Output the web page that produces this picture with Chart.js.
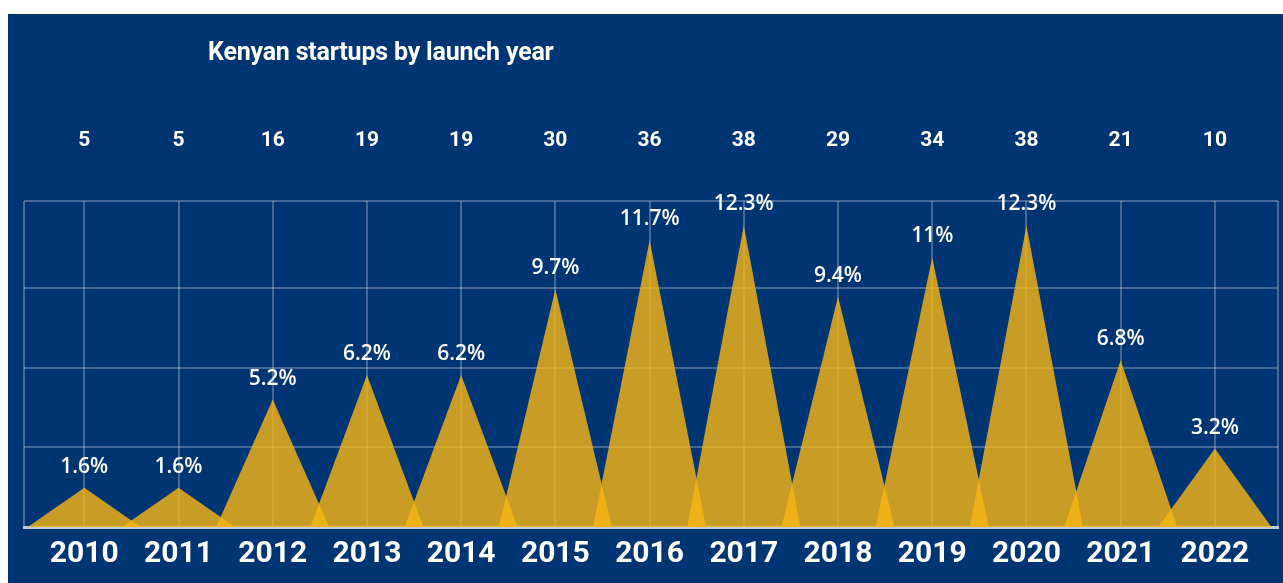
<!DOCTYPE html>
<html>
<head>
<meta charset="utf-8">
<title>Kenyan startups by launch year</title>
<script src="https://cdn.jsdelivr.net/npm/chart.js@4/dist/chart.umd.min.js"></script>
<style>
  html, body { margin: 0; padding: 0; background: #ffffff; }
  #panel {
    position: absolute; left: 8px; top: 14px;
    width: 1275px; height: 569px;
    background: #003574;
  }
  #title {
    position: absolute; left: 200px; top: 23px;
    font: bold 25px Roboto, "Liberation Sans", sans-serif;
    letter-spacing: -0.2px;
    color: #ffffff; white-space: nowrap;
  }
  canvas { position: absolute; left: 0; top: 0; }
</style>
</head>
<body>
<div id="panel">
  <canvas id="startups-chart" width="1275" height="569"></canvas>
  <div id="title">Kenyan startups by launch year</div>
</div>
<script>
const years = ['2010', '2011', '2012', '2013', '2014', '2015', '2016', '2017', '2018', '2019', '2020', '2021', '2022'];
const counts = [5, 5, 16, 19, 19, 30, 36, 38, 29, 34, 38, 21, 10];
const shares = [1.6, 1.6, 5.2, 6.2, 6.2, 9.7, 11.7, 12.3, 9.4, 11, 12.3, 6.8, 3.2];
const gridValues = [0, 3.25, 6.5, 9.75, 13.3];

// half of each triangle's base, in category units
const halfWidth = 0.6;
const xMin = -0.64;
const xMax = 12.67;

const labelPlugin = {
    id: 'startupLabels',
    afterDatasetsDraw(chart) {
        const ctx = chart.ctx;
        const xScale = chart.scales.x;
        const yScale = chart.scales.y;
        ctx.save();
        ctx.fillStyle = '#ffffff';
        ctx.textAlign = 'center';
        ctx.textBaseline = 'middle';
        years.forEach((year, i) => {
            const px = xScale.getPixelForValue(i);
            ctx.font = 'bold 21px Roboto';
            ctx.fillText(String(counts[i]), px, 127);
            ctx.font = '600 21px "Open Sans"';
            ctx.fillText(shares[i] + '%', px, yScale.getPixelForValue(shares[i]) - 21);
            ctx.font = 'bold 30px Roboto';
            ctx.fillText(year, px, chart.chartArea.bottom + 27);
        });
        ctx.restore();
    }
};

const datasets = years.map((year, i) => ({
    label: year,
    data: [
        { x: i - halfWidth, y: 0 },
        { x: i, y: shares[i] },
        { x: i + halfWidth, y: 0 }
    ],
    fill: 'origin',
    backgroundColor: 'rgba(245, 180, 20, 0.82)',
    borderColor: 'transparent',
    borderWidth: 0,
    pointRadius: 0,
    tension: 0
}));

const chartCanvas = document.getElementById('startups-chart');
if (chartCanvas) {
    new Chart(chartCanvas.getContext('2d'), {
        type: 'line',
        data: { datasets: datasets },
        options: {
            responsive: false,
            animation: false,
            layout: { padding: { left: 16, right: 5, top: 187, bottom: 56 } },
            plugins: {
                legend: { display: false },
                tooltip: { enabled: false }
            },
            scales: {
                x: {
                    type: 'linear',
                    min: xMin,
                    max: xMax,
                    afterBuildTicks: (scale) => {
                        scale.ticks = [xMin].concat(years.map((y, i) => i), [xMax]).map(v => ({ value: v }));
                    },
                    ticks: { display: false },
                    grid: { color: 'rgba(255, 255, 255, 0.26)', lineWidth: 2, drawTicks: false },
                    border: { display: true, color: '#c2c9d6', width: 3 }
                },
                y: {
                    min: 0,
                    max: gridValues[gridValues.length - 1],
                    afterBuildTicks: (scale) => {
                        scale.ticks = gridValues.map(v => ({ value: v }));
                    },
                    ticks: { display: false },
                    grid: { color: 'rgba(255, 255, 255, 0.26)', lineWidth: 2, drawTicks: false },
                    border: { display: false }
                }
            }
        },
        plugins: [labelPlugin]
    });
} else {
    console.error('Error: startups-chart canvas not found!');
}
</script>
</body>
</html>
